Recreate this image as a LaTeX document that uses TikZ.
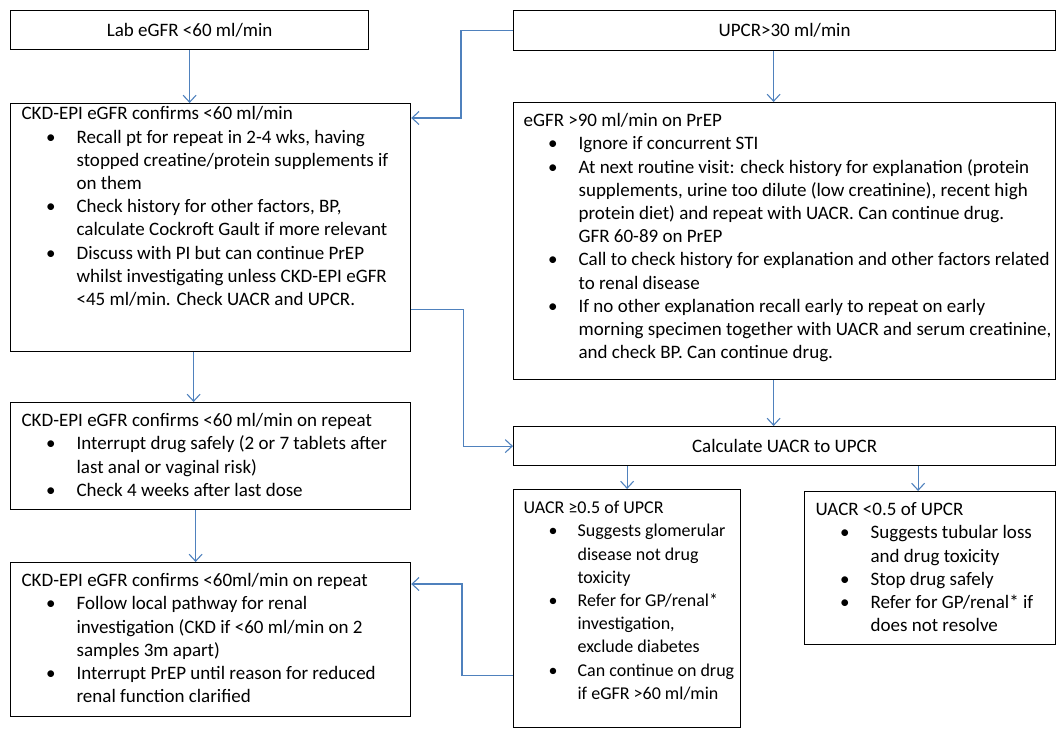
\documentclass[tikz,border=0pt]{standalone}
\usepackage{fontspec}
\setmainfont{Carlito}
\usepackage{enumitem}
\usetikzlibrary{arrows.meta}
\definecolor{arrowblue}{RGB}{79,129,189}
\setlist[itemize]{nosep,leftmargin=55pt,labelsep=21pt}
% text may run a little into the right padding, the box keeps its size
\newcommand{\boxbody}[3]{\makebox[#1][l]{\parbox[t][#2][t]{\dimexpr#1+14pt}{\raggedright\strut#3}}}
\begin{document}
\begin{tikzpicture}[x=1pt,y=-1pt,
  every node/.style={font=\fontsize{19}{23.2}\selectfont},
  box/.style={draw=black, line width=1.2pt, anchor=north west, inner xsep=11pt, inner ysep=7.8pt},
  arr/.style={draw=arrowblue, line width=1.1pt, -{Straight Barb[length=7pt,width=13pt]}}]
\useasboundingbox (0,0) rectangle (1057,728);
% left column
\node[box, minimum width=358pt, minimum height=39pt] (lab) at (10,10) {Lab eGFR <60 ml/min};
\node[box, inner ysep=0pt] (ckd) at (10,103) {\boxbody{378pt}{248pt}{CKD-EPI eGFR confirms <60 ml/min
\begin{itemize}
\item Recall pt for repeat in 2-4 wks, having\newline stopped creatine/protein supplements if\newline on them
\item Check history for other factors, BP,\newline calculate Cockroft Gault if more relevant
\item Discuss with PI but can continue PrEP\newline whilst investigating unless CKD-EPI eGFR\newline <45 ml/min. Check UACR and UPCR.
\end{itemize}}};
\node[box] (rep) at (10,402) {\boxbody{378pt}{91.4pt}{CKD-EPI eGFR confirms <60 ml/min on repeat
\begin{itemize}
\item Interrupt drug safely (2 or 7 tablets after\newline last anal or vaginal risk)
\item Check 4 weeks after last dose
\end{itemize}}};
\node[box] (stop) at (10,562) {\boxbody{378pt}{138.4pt}{CKD-EPI eGFR confirms <60ml/min on repeat
\begin{itemize}
\item Follow local pathway for renal\newline investigation (CKD if <60 ml/min on 2\newline samples 3m apart)
\item Interrupt PrEP until reason for reduced\newline renal function clarified
\end{itemize}}};
% right column
\node[box, minimum width=542pt, minimum height=40pt] (upcr) at (513,10) {UPCR>30 ml/min\hspace{22pt}};
\node[box, inner xsep=10pt] (gfr) at (513,102) {\boxbody{522pt}{261.4pt}{eGFR >90 ml/min on PrEP
\begin{itemize}
\item Ignore if concurrent STI
\item At next routine visit: check history for explanation (protein\newline supplements, urine too dilute (low creatinine), recent high\newline protein diet) and repeat with UACR. Can continue drug.\newline GFR 60-89 on PrEP
\item Call to check history for explanation and other factors related\newline to renal disease
\item If no other explanation recall early to repeat on early\newline morning specimen together with UACR and serum creatinine,\newline and check BP. Can continue drug.
\end{itemize}}};
\node[box, minimum width=542pt, minimum height=39pt] (calc) at (513,426) {Calculate UACR to UPCR\hspace{22pt}};
\node[box, inner xsep=10pt, font=\fontsize{18}{23.2}\selectfont] (uacrhi) at (513,489) {\boxbody{207pt}{222.4pt}{UACR ≥0.5 of UPCR
\begin{itemize}[leftmargin=54pt,labelsep=20pt]
\item Suggests glomerular\newline disease not drug\newline toxicity
\item Refer for GP/renal*\newline investigation,\newline exclude diabetes
\item Can continue on drug\newline if eGFR >60 ml/min
\end{itemize}}};
\node[box] (uacrlo) at (804,491) {\boxbody{229pt}{137.4pt}{UACR <0.5 of UPCR
\begin{itemize}
\item Suggests tubular loss\newline and drug toxicity
\item Stop drug safely
\item Refer for GP/renal* if\newline does not resolve
\end{itemize}}};
% connectors
\draw[arr] (lab.south) -- (lab.south |- ckd.north);
\draw[arr] (upcr.west) -- ++(-52,0) |- ([yshift=-15pt]ckd.north east);
\draw[arr] ([xshift=-11pt]upcr.south) -- ([xshift=-11pt]upcr.south |- gfr.north);
\draw[arr] ([xshift=-17pt]ckd.south) -- ([xshift=-17pt]ckd.south |- rep.north);
\draw[arr] ([yshift=43pt]ckd.south east) -- ++(52,0) |- (calc.west);
\draw[arr] ([xshift=-11pt]gfr.south) -- ([xshift=-11pt]gfr.south |- calc.north);
\draw[arr] ([xshift=-15pt]rep.south) -- ([xshift=-15pt]rep.south |- stop.north);
\draw[arr] (uacrhi.north |- calc.south) -- (uacrhi.north);
\draw[arr] ([xshift=-12pt]uacrlo.north |- calc.south) -- ([xshift=-12pt]uacrlo.north);
\draw[arr] ([yshift=-67pt]uacrhi.west) -- ++(-51,0) |- ([yshift=-22pt]stop.north east);
\end{tikzpicture}
\end{document}
